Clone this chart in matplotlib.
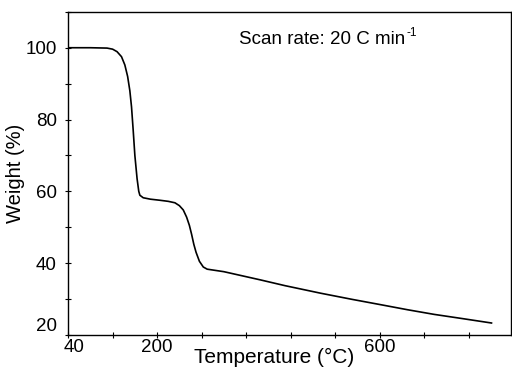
import matplotlib.pyplot as plt
import matplotlib.transforms as mtransforms
from matplotlib.ticker import MultipleLocator

plt.rcParams['font.family'] = ['Liberation Sans', 'DejaVu Sans']

# TGA curve
temperature = [40, 80, 110, 120, 128, 136, 142, 147, 151, 154, 157, 160, 164, 167, 169,
               175, 188, 205, 220, 232, 240, 247, 253, 258, 262, 266, 270, 276, 283, 290,
               320, 386, 430, 494, 550, 602, 650, 698, 750, 801]
weight = [100, 100, 99.9, 99.6, 98.9, 97.5, 95.2, 92.0, 88.0, 83.5, 77.0, 70.0, 63.5, 60.0, 58.9,
          58.2, 57.8, 57.5, 57.2, 56.8, 56.0, 54.8, 52.8, 50.5, 48.0, 45.2, 43.0, 40.5, 38.9, 38.3,
          37.6, 35.3, 33.7, 31.6, 29.9, 28.4, 27.0, 25.7, 24.5, 23.3]

x_ticks = [40, 120, 200, 280, 360, 440, 520, 600, 680, 760]
x_labels = ['40', '', '200', '', '', '', '', '600', '', '']
y_ticks = [20, 40, 60, 80, 100]

fig = plt.figure(figsize=(5.12, 3.70), dpi=100)
ax = fig.add_axes([0.133, 0.095, 0.865, 0.873])

ax.plot(temperature, weight, color='black', linewidth=1.2)

ax.set_xlim(40, 836)
ax.set_ylim(20, 110)
ax.set_xticks(x_ticks)
ax.set_xticklabels(x_labels)
ax.set_yticks(y_ticks)
ax.yaxis.set_minor_locator(MultipleLocator(10))
ax.tick_params(axis='both', which='both', direction='inout', length=4, width=0.8,
               labelsize=13.5)
ax.tick_params(axis='x', pad=1)
ax.tick_params(axis='y', pad=6)

# small nudges of the corner labels as in the original
lab40 = ax.get_xticklabels()[0]
lab40.set_transform(lab40.get_transform() + mtransforms.ScaledTranslation(6 / 100, 0, fig.dpi_scale_trans))
lab20 = ax.get_yticklabels()[0]
lab20.set_transform(lab20.get_transform() + mtransforms.ScaledTranslation(0, 10 / 100, fig.dpi_scale_trans))

ax.set_xlabel('Temperature (°C)', fontsize=15)
ax.xaxis.set_label_coords((274 - 68) / 443, -0.04)
ax.set_ylabel('Weight (%)', fontsize=14.5)
ax.yaxis.set_label_coords(-0.098, 0.5)

for s in ax.spines.values():
    s.set_linewidth(1.0)

ax.text(0.385, 0.915, 'Scan rate: 20 C min', transform=ax.transAxes,
        fontsize=13.5, ha='left', va='center')
ax.text(0.764, 0.935, '-1', transform=ax.transAxes,
        fontsize=8.5, ha='left', va='center')

fig.savefig('out.png', dpi=100)
